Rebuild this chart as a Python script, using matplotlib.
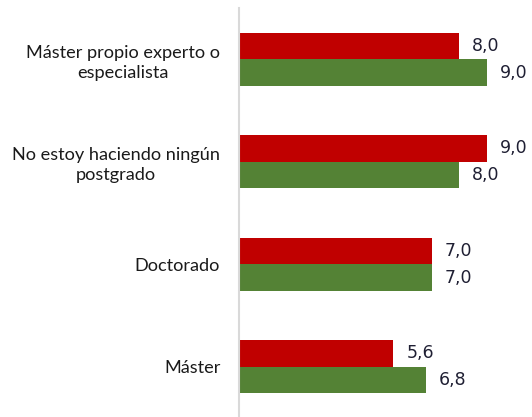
import matplotlib
matplotlib.use("Agg")
import matplotlib.pyplot as plt
import numpy as np

categories = ["Máster propio experto o\nespecialista",
              "No estoy haciendo ningún\npostgrado",
              "Doctorado",
              "Máster"]
serie_roja = [8.0, 9.0, 7.0, 5.6]
serie_verde = [9.0, 8.0, 7.0, 6.8]

rojo = "#C00000"
verde = "#548235"

W, H = 532, 417
fig = plt.figure(figsize=(W / 100, H / 100), dpi=100)
ax = fig.add_axes([239 / W, -1 / H, 293 / W, 410 / H])

y = np.arange(len(categories))
h = 0.26
ax.barh(y - h / 2, serie_roja, height=h, color=rojo, edgecolor="none")
ax.barh(y + h / 2, serie_verde, height=h, color=verde, edgecolor="none")

for yi, v in zip(y - h / 2, serie_roja):
    ax.annotate(f"{v:.1f}".replace(".", ","), (v, yi), xytext=(9.5, 0),
                textcoords="offset points", va="center", ha="left",
                fontsize=12.5, color="#1f1f33", family="DejaVu Sans")
for yi, v in zip(y + h / 2, serie_verde):
    ax.annotate(f"{v:.1f}".replace(".", ","), (v, yi), xytext=(9.5, 0),
                textcoords="offset points", va="center", ha="left",
                fontsize=12.5, color="#1f1f33", family="DejaVu Sans")

ax.set_xlim(0, 293 / 27.5)
ax.set_ylim(3.5, -0.5)
ax.set_yticks(y)
ax.set_yticklabels(categories, family="Lato", fontsize=13.1, color="#1a1a1a",
                   linespacing=1.3)
for lbl in ax.get_yticklabels():
    lbl.set_multialignment("center")
ax.tick_params(axis="y", length=0, pad=13.5)
ax.set_xticks([])

for s in ("top", "right", "bottom"):
    ax.spines[s].set_visible(False)
ax.spines["left"].set_color("#D9D9D9")
ax.spines["left"].set_linewidth(1.5)

fig.savefig("out.png", dpi=100)
